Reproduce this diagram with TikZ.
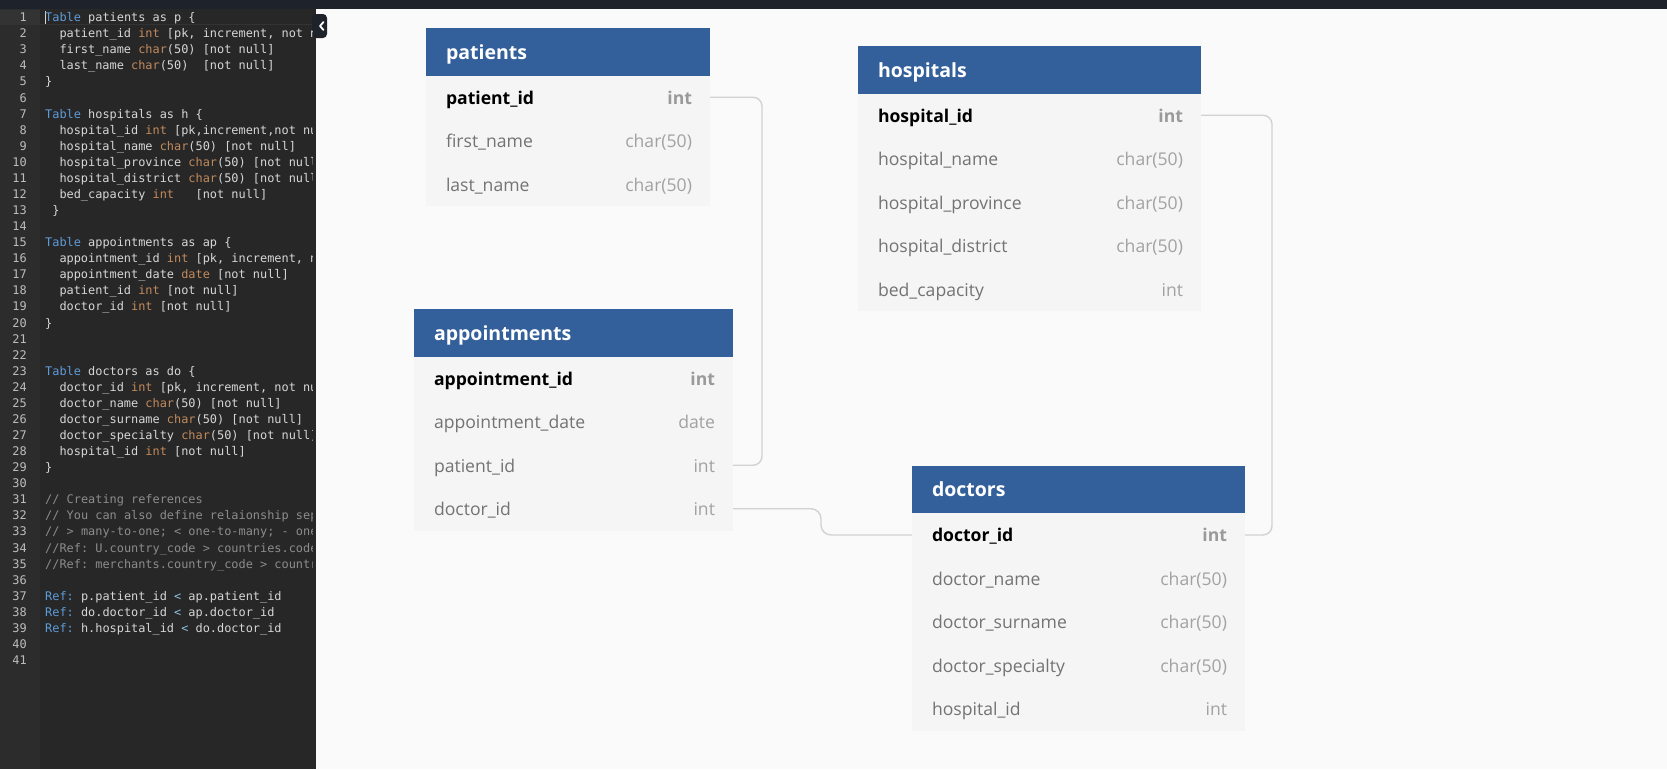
\documentclass[tikz,border=0pt]{standalone}
\usepackage{fontspec}
\usetikzlibrary{backgrounds}
\setmainfont{Open Sans}
\newfontfamily\codefont{DejaVu Sans Mono}
\definecolor{canvas}{HTML}{FAFAFA}
\definecolor{topbar}{HTML}{1E222A}
\definecolor{codebg}{HTML}{272727}
\definecolor{gutterbg}{HTML}{2C2C2C}
\definecolor{activebg}{HTML}{333333}
\definecolor{lnumc}{HTML}{BDBDBD}
\definecolor{codetxt}{HTML}{D6D6D6}
\definecolor{kwc}{HTML}{5F9BD8}
\definecolor{tyc}{HTML}{C28A5C}
\definecolor{cmc}{HTML}{8C8C8C}
\definecolor{opc}{HTML}{8EC3DE}
\definecolor{hdrblue}{HTML}{33609A}
\definecolor{bodybg}{HTML}{F5F5F5}
\definecolor{fieldc}{HTML}{737373}
\definecolor{typec}{HTML}{A2A2A2}
\definecolor{pktypec}{HTML}{9A9A9A}
\definecolor{connc}{HTML}{D2D2D2}
\newcommand\ckw[1]{\textcolor{kwc}{#1}}
\newcommand\cty[1]{\textcolor{tyc}{#1}}
\newcommand\ccm[1]{\textcolor{cmc}{#1}}
\newcommand\cop[1]{\textcolor{opc}{#1}}
\begin{document}
\begin{tikzpicture}[x=1pt,y=-1pt,
  lnum/.style={anchor=base east, inner sep=0pt, text=lnumc, font=\codefont\fontsize{11.9}{14}\selectfont},
  codeln/.style={anchor=base west, inner sep=0pt, text=codetxt, font=\codefont\fontsize{11.9}{14}\selectfont\frenchspacing},
  hdr/.style={anchor=north west, fill=hdrblue, text=white, font=\fontsize{19.5}{22}\selectfont\bfseries, minimum height=47.5pt, inner xsep=20pt, inner ysep=0pt, outer sep=0pt, text height=14.5pt, text depth=0pt, align=left},
  row/.style={anchor=north west, text=fieldc, font=\fontsize{17.6}{20}\selectfont, minimum height=43.5pt, inner xsep=20pt, inner ysep=0pt, outer sep=0pt, text height=14pt, text depth=0pt, align=left},
  pkrow/.style={row, text=black, font=\fontsize{17.6}{20}\selectfont\bfseries},
  ty/.style={anchor=east, inner sep=0pt, outer sep=0pt, text height=14pt, text depth=0pt, text=typec, font=\fontsize{17.6}{20}\selectfont},
  pkty/.style={ty, text=pktypec, font=\fontsize{17.6}{20}\selectfont\bfseries},
  conn/.style={draw=connc, line width=1.4pt}
]
\useasboundingbox (0,0) rectangle (1667,769);
% backgrounds
\begin{scope}[on background layer]
\fill[canvas] (0,0) rectangle (1667,769);
\fill[codebg] (0,9) rectangle (316,769);
\fill[gutterbg] (0,9) rectangle (40,769);
\fill[activebg] (0,9.5) rectangle (40,24.5);
\draw[draw=activebg, line width=0.8pt] (40,24.5) -- (316,24.5);
\fill[topbar] (0,0) rectangle (1667,9);
\end{scope}
% collapse button
\fill[topbar, rounded corners=4pt] (312,14) rectangle (327,38);
\fill[topbar] (316,14) rectangle (320,38);
\draw[white, line width=1.8pt, line cap=round, line join=round] (323.5,22) -- (320,26) -- (323.5,30);
% line numbers
\foreach \i in {1,...,41} {
  \node[lnum] (n\i) at (27,{5.63+16.07*\i}) {\i};
}
% cursor
\draw[codetxt, line width=0.8pt] (45,11) -- (45,24);
% code text
\begin{scope}
\clip (40,9) rectangle (312,769);
\node[codeln] (c1) at (45,{5.63+16.07*1}) {\ckw{Table} patients as p \{};
\node[codeln] (c2) at (59.3,{5.63+16.07*2}) {patient\_id \cty{int} [pk, increment, not n};
\node[codeln] (c3) at (59.3,{5.63+16.07*3}) {first\_name \cty{char}(50) [not null]};
\node[codeln] (c4) at (59.3,{5.63+16.07*4}) {last\_name \cty{char}(50)\ \ [not null]};
\node[codeln] (c5) at (45,{5.63+16.07*5}) {\}};
\node[codeln] (c7) at (45,{5.63+16.07*7}) {\ckw{Table} hospitals as h \{};
\node[codeln] (c8) at (59.3,{5.63+16.07*8}) {hospital\_id \cty{int} [pk,increment,not nu};
\node[codeln] (c9) at (59.3,{5.63+16.07*9}) {hospital\_name \cty{char}(50) [not null]};
\node[codeln] (c10) at (59.3,{5.63+16.07*10}) {hospital\_province \cty{char}(50) [not null};
\node[codeln] (c11) at (59.3,{5.63+16.07*11}) {hospital\_district \cty{char}(50) [not null};
\node[codeln] (c12) at (59.3,{5.63+16.07*12}) {bed\_capacity \cty{int}\ \ \ [not null]};
\node[codeln] (c13) at (52.16,{5.63+16.07*13}) {\}};
\node[codeln] (c15) at (45,{5.63+16.07*15}) {\ckw{Table} appointments as ap \{};
\node[codeln] (c16) at (59.3,{5.63+16.07*16}) {appointment\_id \cty{int} [pk, increment, n};
\node[codeln] (c17) at (59.3,{5.63+16.07*17}) {appointment\_date \cty{date} [not null]};
\node[codeln] (c18) at (59.3,{5.63+16.07*18}) {patient\_id \cty{int} [not null]};
\node[codeln] (c19) at (59.3,{5.63+16.07*19}) {doctor\_id \cty{int} [not null]};
\node[codeln] (c20) at (45,{5.63+16.07*20}) {\}};
\node[codeln] (c23) at (45,{5.63+16.07*23}) {\ckw{Table} doctors as do \{};
\node[codeln] (c24) at (59.3,{5.63+16.07*24}) {doctor\_id \cty{int} [pk, increment, not nu};
\node[codeln] (c25) at (59.3,{5.63+16.07*25}) {doctor\_name \cty{char}(50) [not null]};
\node[codeln] (c26) at (59.3,{5.63+16.07*26}) {doctor\_surname \cty{char}(50) [not null]};
\node[codeln] (c27) at (59.3,{5.63+16.07*27}) {doctor\_specialty \cty{char}(50) [not null]};
\node[codeln] (c28) at (59.3,{5.63+16.07*28}) {hospital\_id \cty{int} [not null]};
\node[codeln] (c29) at (45,{5.63+16.07*29}) {\}};
\node[codeln] (c31) at (45,{5.63+16.07*31}) {\ccm{// Creating references}};
\node[codeln] (c32) at (45,{5.63+16.07*32}) {\ccm{// You can also define relaionship sep}};
\node[codeln] (c33) at (45,{5.63+16.07*33}) {\ccm{// > many-to-one; < one-to-many; - one}};
\node[codeln] (c34) at (45,{5.63+16.07*34}) {\ccm{//Ref: U.country\_code > countries.code}};
\node[codeln] (c35) at (45,{5.63+16.07*35}) {\ccm{//Ref: merchants.country\_code > countr}};
\node[codeln] (c37) at (45,{5.63+16.07*37}) {\ckw{Ref:} p.patient\_id \cop{<} ap.patient\_id};
\node[codeln] (c38) at (45,{5.63+16.07*38}) {\ckw{Ref:} do.doctor\_id \cop{<} ap.doctor\_id};
\node[codeln] (c39) at (45,{5.63+16.07*39}) {\ckw{Ref:} h.hospital\_id \cop{<} do.doctor\_id};
\end{scope}
% ---------- patients ----------
\node[hdr, text width=244pt] (p) at (426,28) {patients};
\node[pkrow, text width=244pt] (p1) at (p.south west) {patient\_id};
\node[row, text width=244pt] (p2) at (p1.south west) {first\_name};
\node[row, text width=244pt] (p3) at (p2.south west) {last\_name};
\node[pkty] (p1t) at ([xshift=-18pt]p1.east) {int};
\node[ty] (p2t) at ([xshift=-18pt]p2.east) {char(50)};
\node[ty] (p3t) at ([xshift=-18pt]p3.east) {char(50)};
% ---------- hospitals ----------
\node[hdr, text width=303pt] (h) at (858,46) {hospitals};
\node[pkrow, text width=303pt] (h1) at (h.south west) {hospital\_id};
\node[row, text width=303pt] (h2) at (h1.south west) {hospital\_name};
\node[row, text width=303pt] (h3) at (h2.south west) {hospital\_province};
\node[row, text width=303pt] (h4) at (h3.south west) {hospital\_district};
\node[row, text width=303pt] (h5) at (h4.south west) {bed\_capacity};
\node[pkty] (h1t) at ([xshift=-18pt]h1.east) {int};
\node[ty] (h2t) at ([xshift=-18pt]h2.east) {char(50)};
\node[ty] (h3t) at ([xshift=-18pt]h3.east) {char(50)};
\node[ty] (h4t) at ([xshift=-18pt]h4.east) {char(50)};
\node[ty] (h5t) at ([xshift=-18pt]h5.east) {int};
% ---------- appointments ----------
\node[hdr, text width=279pt] (a) at (414,309) {appointments};
\node[pkrow, text width=279pt] (a1) at (a.south west) {appointment\_id};
\node[row, text width=279pt] (a2) at (a1.south west) {appointment\_date};
\node[row, text width=279pt] (a3) at (a2.south west) {patient\_id};
\node[row, text width=279pt] (a4) at (a3.south west) {doctor\_id};
\node[pkty] (a1t) at ([xshift=-18pt]a1.east) {int};
\node[ty] (a2t) at ([xshift=-18pt]a2.east) {date};
\node[ty] (a3t) at ([xshift=-18pt]a3.east) {int};
\node[ty] (a4t) at ([xshift=-18pt]a4.east) {int};
% ---------- doctors ----------
\node[hdr, text width=293pt] (d) at (912,465.7) {doctors};
\node[pkrow, text width=293pt] (d1) at (d.south west) {doctor\_id};
\node[row, text width=293pt] (d2) at (d1.south west) {doctor\_name};
\node[row, text width=293pt] (d3) at (d2.south west) {doctor\_surname};
\node[row, text width=293pt] (d4) at (d3.south west) {doctor\_specialty};
\node[row, text width=293pt] (d5) at (d4.south west) {hospital\_id};
\node[pkty] (d1t) at ([xshift=-18pt]d1.east) {int};
\node[ty] (d2t) at ([xshift=-18pt]d2.east) {char(50)};
\node[ty] (d3t) at ([xshift=-18pt]d3.east) {char(50)};
\node[ty] (d4t) at ([xshift=-18pt]d4.east) {char(50)};
\node[ty] (d5t) at ([xshift=-18pt]d5.east) {int};
% table bodies
\begin{scope}[on background layer]
\fill[bodybg] (p1.north west) rectangle (p3.south east);
\fill[bodybg] (h1.north west) rectangle (h5.south east);
\fill[bodybg] (a1.north west) rectangle (a4.south east);
\fill[bodybg] (d1.north west) rectangle (d5.south east);
\end{scope}
% ---------- connectors ----------
\draw[conn, rounded corners=9pt] (p1.east) -- ++(52,0) |- (a3.east);
\draw[conn, rounded corners=10pt] (a4.east) -- ++(88,0) |- (d1.west);
\draw[conn, rounded corners=9pt] (h1.east) -- ++(71,0) |- (d1.east);
\end{tikzpicture}
\end{document}
